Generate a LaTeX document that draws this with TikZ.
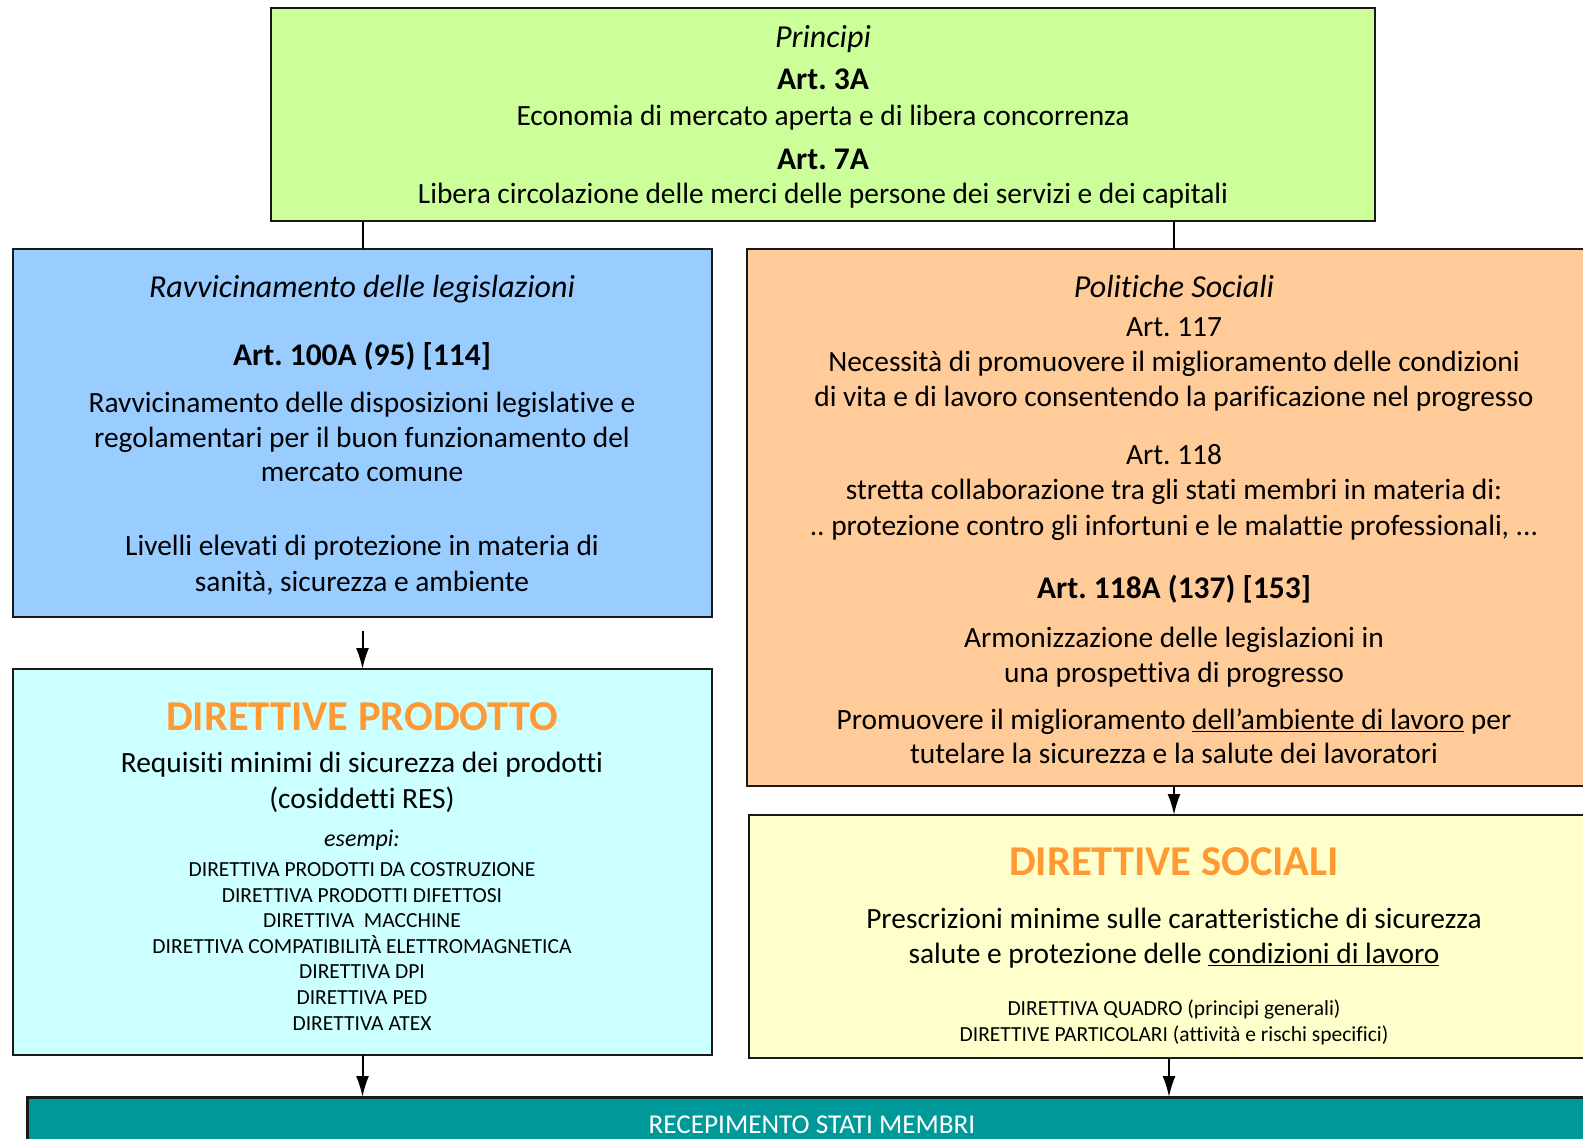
\documentclass[tikz,border=0pt]{standalone}
\usepackage{fontspec}
\setmainfont{Carlito}[Ligatures=NoCommon]
\usetikzlibrary{arrows.meta}
\definecolor{cgreen}{HTML}{CCFF99}
\definecolor{cblue}{HTML}{99CCFF}
\definecolor{corange}{HTML}{FFCC99}
\definecolor{ccyan}{HTML}{CCFFFF}
\definecolor{cyellow}{HTML}{FFFFCC}
\definecolor{cteal}{HTML}{009999}
\definecolor{ctitle}{HTML}{FF9933}
\tikzset{
  box/.style={draw=black!90, line width=2.2pt, anchor=north west, inner sep=0pt, outer sep=0pt},
  txt/.style={anchor=base, inner sep=0pt, font=\fontsize{29.4}{35}\selectfont},
  itx/.style={anchor=base, inner sep=0pt, font=\fontsize{32}{38}\selectfont\itshape},
  btx/.style={anchor=base, inner sep=0pt, font=\fontsize{31.5}{38}\selectfont\bfseries},
  sml/.style={anchor=base, inner sep=0pt, font=\fontsize{21.5}{25}\selectfont},
  ttl/.style={anchor=base, inner sep=0pt, text=ctitle, font=\fontsize{42.5}{50}\selectfont\bfseries},
  conn/.style={line width=2pt, black},
  arr/.style={line width=2pt, black, -{Latex[length=21pt,width=13pt]}}
}
\begin{document}
\frenchspacing
\begin{tikzpicture}[x=1pt,y=-1pt]
\useasboundingbox (0,0) rectangle (1583,1139);
% boxes
\node[box, fill=cgreen, minimum width=1104.5pt, minimum height=213pt] (top) at (270.6,8) {};
\node[box, fill=cblue, minimum width=699pt, minimum height=368pt] (blue) at (13,249) {};
\node[box, fill=corange, minimum width=854pt, minimum height=537pt] (orange) at (747,249) {};
\node[box, fill=ccyan, minimum width=699pt, minimum height=386pt] (cyan) at (13,669) {};
\node[box, fill=cyellow, minimum width=840pt, minimum height=243pt] (yellow) at (749,815) {};
\node[box, fill=cteal, minimum width=1575pt, minimum height=60pt, line width=3pt] (teal) at (27,1097) {};
% connectors
\draw[conn] (top.south -| blue.north) -- (blue.north);
\draw[conn] (top.south -| orange.north) -- (orange.north);
\draw[arr, shorten <=14pt] (blue.south) -- (cyan.north);
\draw[arr] (orange.south) -- (orange.south |- yellow.north);
\draw[arr] (cyan.south) -- (cyan.south |- teal.north);
\draw[arr] (yellow.south) -- (yellow.south |- teal.north);
% top texts
\node[itx] (p1) at (823,47.3) {Principi};
\node[btx] (p2) at (823,89.5) {Art. 3A};
\node[txt] (p3) at (823,126) {Economia di mercato aperta e di libera concorrenza};
\node[btx] (p4) at (823,169.5) {Art. 7A};
\node[txt] (p5) at (823,204) {Libera circolazione delle merci delle persone dei servizi e dei capitali};
% blue texts
\node[itx] (b1) at (362,297.5) {Ravvicinamento delle legislazioni};
\node[btx] (b2) at (362,365.5) {Art. 100A (95) [114]};
\node[txt] (b3) at (362,412.5) {Ravvicinamento delle disposizioni legislative e};
\node[txt] (b4) at (362,447.5) {regolamentari per il buon funzionamento del};
\node[txt] (b5) at (362,482) {mercato comune};
\node[txt] (b6) at (362,555.5) {Livelli elevati di protezione in materia di};
\node[txt] (b7) at (362,591) {sanità, sicurezza e ambiente};
% orange texts
\node[itx] (o1) at (1174,297.5) {Politiche Sociali};
\node[txt] (o2) at (1174,336.5) {Art. 117};
\node[txt] (o3) at (1174,372) {Necessità di promuovere il miglioramento delle condizioni};
\node[txt] (o4) at (1174,406.5) {di vita e di lavoro consentendo la parificazione nel progresso};
\node[txt] (o5) at (1174,464.5) {Art. 118};
\node[txt] (o6) at (1174,500) {stretta collaborazione tra gli stati membri in materia di:};
\node[txt] (o7) at (1174,535.5) {.. protezione contro gli infortuni e le malattie professionali, ...};
\node[btx] (o8) at (1174,598) {Art. 118A (137) [153]};
\node[txt] (o9) at (1174,647.5) {Armonizzazione delle legislazioni in};
\node[txt] (o10) at (1174,682.5) {una prospettiva di progresso};
\node[txt] (o11) at (1174,729.5) {Promuovere il miglioramento \underline{dell’ambiente di lavoro} per};
\node[txt] (o12) at (1174,763.5) {tutelare la sicurezza e la salute dei lavoratori};
% cyan texts
\node[ttl] (c1) at (362,730.5) {DIRETTIVE PRODOTTO};
\node[txt] (c2) at (362,772.5) {Requisiti minimi di sicurezza dei prodotti};
\node[txt] (c3) at (362,808) {(cosiddetti RES)};
\node[sml, font=\fontsize{24}{28}\selectfont\itshape] (c4) at (362,846) {esempi:};
\node[sml] (c5) at (362,876.5) {DIRETTIVA PRODOTTI DA COSTRUZIONE};
\node[sml] (c6) at (362,902) {DIRETTIVA PRODOTTI DIFETTOSI};
\node[sml] (c7) at (362,927.5) {DIRETTIVA\ \ MACCHINE};
\node[sml] (c8) at (362,953.5) {DIRETTIVA COMPATIBILITÀ ELETTROMAGNETICA};
\node[sml] (c9) at (362,978.5) {DIRETTIVA DPI};
\node[sml] (c10) at (362,1004) {DIRETTIVA PED};
\node[sml] (c11) at (362,1030.5) {DIRETTIVA ATEX};
% yellow texts
\node[ttl] (y1) at (1174,875.5) {DIRETTIVE SOCIALI};
\node[txt] (y2) at (1174,928.5) {Prescrizioni minime sulle caratteristiche di sicurezza};
\node[txt] (y3) at (1174,963.5) {salute e protezione delle \underline{condizioni di lavoro}};
\node[sml] (y4) at (1174,1015.5) {DIRETTIVA QUADRO (principi generali)};
\node[sml] (y5) at (1174,1041) {DIRETTIVE PARTICOLARI (attività e rischi specifici)};
% teal text
\node[anchor=base, inner sep=0pt, text=white, font=\fontsize{27.2}{31}\selectfont] (r1) at (812,1133) {RECEPIMENTO STATI MEMBRI};
\end{tikzpicture}
\end{document}
